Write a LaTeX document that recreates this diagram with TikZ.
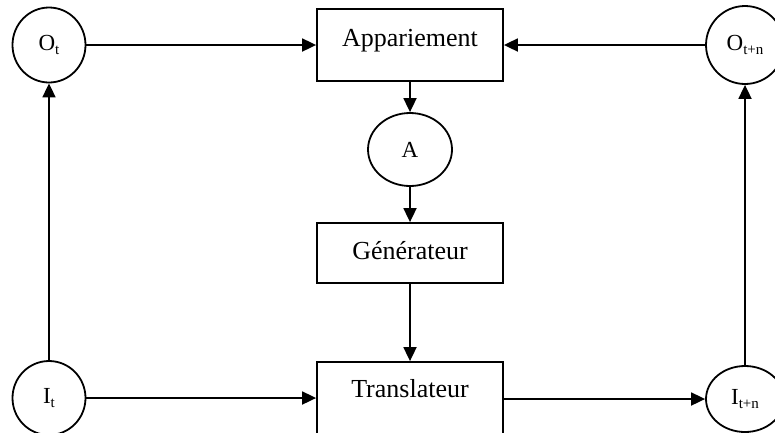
\documentclass[tikz,border=0pt]{standalone}
\usepackage{fontspec}
\setmainfont{Liberation Serif}
\usetikzlibrary{shapes.geometric,arrows.meta}

% label with a lowered, smaller index
\newcommand{\idxlabel}[2]{#1\raisebox{-4pt}{\fontsize{15}{15}\selectfont #2}}

\begin{document}
\begin{tikzpicture}[x=1pt,y=-1pt,
  state/.style={draw,line width=1.8pt,ellipse,inner sep=0pt,
    font=\fontsize{23}{26}\selectfont},
  block/.style={draw,line width=1.8pt,rectangle,inner xsep=0pt,inner ysep=0pt,
    minimum width=186pt,align=center,font=\fontsize{26}{30}\selectfont},
  arr/.style={line width=1.8pt,-{Triangle[length=14pt,width=13pt]}}]
\useasboundingbox (0,0) rectangle (775,432);

% processing blocks
\node[block,text height=37pt,text depth=35pt] (app) at (410,45) {Appariement};
\node[block,text height=36pt,text depth=24pt] (gen) at (410,253) {Générateur};
\node[block,text height=35pt,text depth=37pt] (tra) at (410,398) {Translateur};

% states
\node[state,minimum width=84pt,minimum height=73pt] (a) at (410,149.5) {A};
\node[state,minimum width=73pt,minimum height=75pt] (ot) at (49,45) {\idxlabel{O}{t}};
\node[state,minimum width=78pt,minimum height=78pt] (otn) at (745,45) {\idxlabel{O}{t+n}};
\node[state,minimum width=73pt,minimum height=74pt] (it) at (49,398) {\idxlabel{I}{t}};
\node[state,minimum width=78pt,minimum height=66pt] (itn) at (745,399) {\idxlabel{I}{t+n}};

% connectors
\draw[arr] (ot) -- (app);
\draw[arr] (otn) -- (app);
\draw[arr] (app) -- (a);
\draw[arr] (a) -- (gen);
\draw[arr] (gen) -- (tra);
\draw[arr] (it) -- (tra);
\draw[arr] (tra.east |- itn.west) -- (itn);
\draw[arr] (it) -- (ot);
\draw[arr] (itn) -- (otn);
\end{tikzpicture}
\end{document}
